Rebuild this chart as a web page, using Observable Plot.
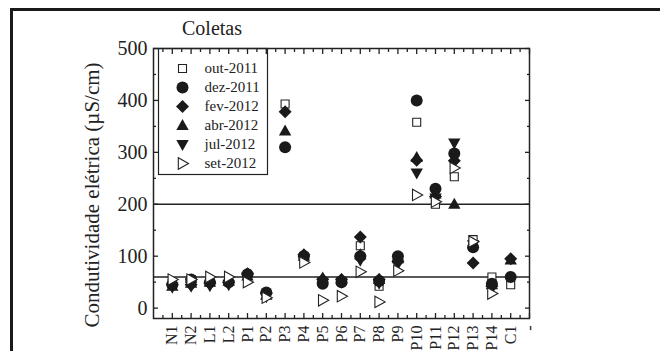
<!DOCTYPE html>
<html>
<head>
<meta charset="utf-8">
<script src="https://cdn.jsdelivr.net/npm/d3@7"></script>
<script src="https://cdn.jsdelivr.net/npm/@observablehq/plot@0.6"></script>
<style>
  html, body { margin: 0; padding: 0; background: #fff; overflow: hidden; }
  #wrap { position: relative; width: 660px; height: 351px; overflow: hidden; font-family: "Liberation Serif", serif; color: #222; }
  #border { position: absolute; left: 10px; top: 8px; width: 800px; height: 500px; border-left: 3px solid #1a1a1a; border-top: 3px solid #1a1a1a; }
  #title { position: absolute; left: 182px; top: 17px; font-size: 20px; }
  #ylabel { position: absolute; left: 92px; top: 195px; font-size: 21px; white-space: nowrap; transform: translate(-50%, -50%) rotate(-90deg); }
  #chart { position: absolute; left: 0; top: 0; }
  #legend { position: absolute; left: 158px; top: 48px; }
</style>
</head>
<body>
<div id="wrap">
  <div id="border"></div>
  <div id="chart"></div>
  <div id="legend"></div>
  <div id="title">Coletas</div>
  <div id="ylabel">Condutividade elétrica (µS/cm)</div>
</div>
<script>
// ---- data ----
const sites = ["N1","N2","L1","L2","P1","P2","P3","P4","P5","P6","P7","P8","P9","P10","P11","P12","P13","P14","C1","-"];
const seriesNames = ["out-2011","dez-2011","fev-2012","abr-2012","jul-2012","set-2012"];
const out2011 = [48, 55, 52, 52, 62, 28, 393, 100, 50, 52, 120, 42, 95, 358, 200, 253, 132, 60, 45, null];
const dez2011 = [45, 55, 50, 50, 65, 30, 310, 100, 47, 50, 100, 52, 100, 400, 230, 298, 117, 47, 60, null];
const fev2012 = [45, 45, 48, 50, 66, 28, 378, 103, 55, 55, 137, 55, 90, 285, 215, 284, 87, 42, 95, null];
const abr2012 = [42, 48, 50, 52, 62, 25, 341, 100, 58, 55, 103, 55, 95, 290, 220, 200, 124, 45, 93, null];
const jul2012 = [40, 42, 43, 45, 60, 22, null, 95, 50, 50, 92, 48, 85, 260, 212, 318, 122, 38, null, null];
const set2012 = [55, 55, 60, 60, 50, 20, null, 88, 15, 23, 70, 12, 72, 218, 205, 270, 128, 28, null, null];
const limits = [60, 200];
const yMajor = [0, 100, 200, 300, 400, 500];
const yMinor = [50, 150, 250, 350, 450];

// ---- symbols ----
const symSquare = {draw(c, s){ const r = Math.sqrt(s/Math.PI); const a = r*0.8; c.moveTo(-a,-a); c.lineTo(a,-a); c.lineTo(a,a); c.lineTo(-a,a); c.closePath(); }};
const symCircle = {draw(c, s){ const r = Math.sqrt(s/Math.PI); c.moveTo(r,0); c.arc(0,0,r,0,2*Math.PI); }};
const symDiamond = {draw(c, s){ const r = Math.sqrt(s/Math.PI); c.moveTo(0,-r); c.lineTo(r,0); c.lineTo(0,r); c.lineTo(-r,0); c.closePath(); }};
const symUp = {draw(c, s){ const r = Math.sqrt(s/Math.PI); c.moveTo(0,-r); c.lineTo(r*0.95,r*0.7); c.lineTo(-r*0.95,r*0.7); c.closePath(); }};
const symDown = {draw(c, s){ const r = Math.sqrt(s/Math.PI); c.moveTo(0,r); c.lineTo(r*0.95,-r*0.7); c.lineTo(-r*0.95,-r*0.7); c.closePath(); }};
const symRight = {draw(c, s){ const r = Math.sqrt(s/Math.PI); c.moveTo(r,0); c.lineTo(-r*0.7,-r*0.95); c.lineTo(-r*0.7,r*0.95); c.closePath(); }};

const seriesValues = [out2011, dez2011, fev2012, abr2012, jul2012, set2012];
const styles = [
  {symbol: symSquare, r: 5, fill: "white", stroke: "#222", strokeWidth: 1.1},
  {symbol: symCircle, r: 6, fill: "#1a1a1a", stroke: "none"},
  {symbol: symDiamond, r: 6.5, fill: "#1a1a1a", stroke: "none"},
  {symbol: symUp, r: 6.5, fill: "#1a1a1a", stroke: "none"},
  {symbol: symDown, r: 6.5, fill: "#1a1a1a", stroke: "none"},
  {symbol: symRight, r: 6, fill: "white", stroke: "#222", strokeWidth: 1.1}
];

const tables = seriesValues.map(vals => vals.map((v, i) => ({x: i + 1, y: v})).filter(d => d.y != null));
const xMajor = d3.range(1, sites.length + 1);
const xMinor = d3.range(0.5, sites.length, 1);

const font = "Liberation Serif";
const chart = Plot.plot({
  width: 660, height: 351,
  marginLeft: 153, marginRight: 131, marginTop: 48, marginBottom: 33,
  style: {fontFamily: font, color: "#222", background: "transparent"},
  x: {type: "linear", domain: [0, sites.length]},
  y: {domain: [-20, 500]},
  marks: [
    Plot.ruleY(limits, {stroke: "#222", strokeWidth: 1.5}),
    // x axis labels
    Plot.axisX({anchor: "bottom", ticks: xMajor, tickSize: 0, tickPadding: 7, tickRotate: -90, tickFormat: i => sites[i - 1], fontSize: 16, label: null}),
    Plot.axisX({anchor: "bottom", ticks: xMajor, tickSize: -5, text: null, label: null, strokeWidth: 1.3}),
    Plot.axisX({anchor: "bottom", ticks: xMinor, tickSize: -3, text: null, label: null, strokeWidth: 1.3}),
    Plot.axisX({anchor: "top", ticks: xMajor, tickSize: -5, text: null, label: null, strokeWidth: 1.3}),
    Plot.axisX({anchor: "top", ticks: xMinor, tickSize: -3, text: null, label: null, strokeWidth: 1.3}),
    // y axis
    Plot.axisY({anchor: "left", ticks: yMajor, tickSize: 0, tickPadding: 6, fontSize: 20, label: null}),
    Plot.axisY({anchor: "left", ticks: yMajor, tickSize: -5, text: null, label: null, strokeWidth: 1.3}),
    Plot.axisY({anchor: "left", ticks: yMinor, tickSize: -3, text: null, label: null, strokeWidth: 1.3}),
    Plot.axisY({anchor: "right", ticks: yMajor, tickSize: -5, text: null, label: null, strokeWidth: 1.3}),
    Plot.axisY({anchor: "right", ticks: yMinor, tickSize: -3, text: null, label: null, strokeWidth: 1.3}),
    Plot.frame({stroke: "#222", strokeWidth: 1.5}),
    ...tables.map((t, k) => Plot.dot(t, {x: "x", y: "y", ...styles[k]}))
  ]
});
document.getElementById("chart").append(chart);

const legend = Plot.plot({
  width: 109, height: 126,
  marginLeft: 0, marginRight: 0, marginTop: 0, marginBottom: 0,
  style: {fontFamily: font, color: "#222", background: "transparent", overflow: "visible"},
  x: {axis: null},
  y: {type: "point", domain: seriesNames, padding: 0.5, insetTop: 8, axis: null},
  marks: [
    Plot.frame({stroke: "#222", strokeWidth: 1.2}),
    ...seriesNames.map((name, k) => Plot.dot([name], {y: d => d, frameAnchor: "left", dx: 24, ...styles[k]})),
    Plot.text(seriesNames, {y: d => d, text: d => d, frameAnchor: "left", dx: 46, textAnchor: "start", fontSize: 15, fill: "#222"})
  ]
});
document.getElementById("legend").append(legend);
</script>
</body>
</html>
